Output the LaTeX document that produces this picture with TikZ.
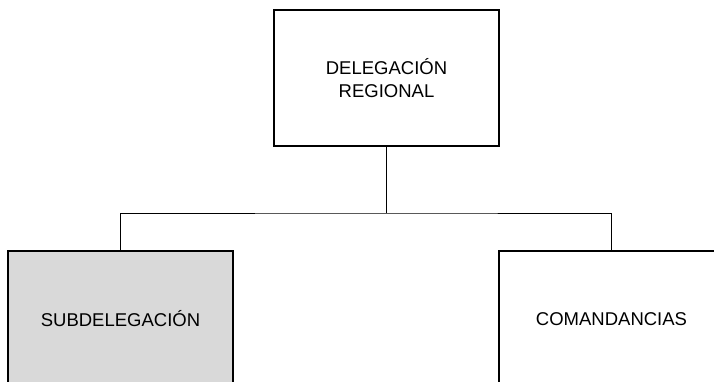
\documentclass[tikz,border=0pt]{standalone}
\usepackage{fontspec}
\setmainfont{Liberation Sans}
\definecolor{boxgray}{HTML}{D9D9D9}
\begin{document}
\begin{tikzpicture}[x=1pt, y=-1pt,
  orgbox/.style={draw, line width=1.4pt, minimum width=225pt, minimum height=136pt,
    inner sep=0pt, align=center, font=\fontsize{18.5}{23}\selectfont},
  link/.style={line width=0.7pt}]
\useasboundingbox (0,0) rectangle (714,381);
\clip (0,0) rectangle (714,381);

\node[orgbox] (deleg) at (386.5,78) {DELEGACIÓN\\REGIONAL};
\node[orgbox, fill=boxgray] (subdel) at (120.5,319) {SUBDELEGACIÓN};
\node[orgbox] (coman) at (611.5,319) {COMANDANCIAS};

% bus
\coordinate (bus) at (386.5,213);
\draw[link] (deleg.south) -- (bus);
\draw[link] (subdel.north) |- (bus) -| (coman.north);

\end{tikzpicture}
\end{document}
